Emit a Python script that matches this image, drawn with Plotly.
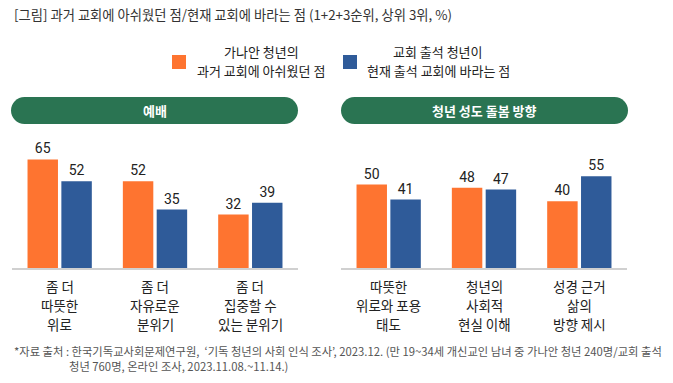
import plotly.graph_objects as go

W, H = 673, 383

# ---- data ----
title_text = "[그림] 과거 교회에 아쉬웠던 점/현재 교회에 바라는 점 (1+2+3순위, 상위 3위, %)"
series_names = ["가나안 청년의<br>과거 교회에 아쉬웠던 점", "교회 출석 청년이<br>현재 출석 교회에 바라는 점"]
series_colors = ["#FE7430", "#2F5B99"]

panel_titles = ["예배", "청년 성도 돌봄 방향"]

cats_left = ["좀 더<br>따뜻한<br>위로", "좀 더<br>자유로운<br>분위기", "좀 더<br>집중할 수<br>있는 분위기"]
past_left = [65, 52, 32]
now_left = [52, 35, 39]

cats_right = ["따뜻한<br>위로와 포용<br>태도", "청년의<br>사회적<br>현실 이해", "성경 근거<br>삶의<br>방향 제시"]
past_right = [50, 48, 40]
now_right = [41, 47, 55]

footnote_lines = [
    "*자료 출처 : 한국기독교사회문제연구원,  ‘기독 청년의 사회 인식 조사’, 2023.12. (만 19~34세 개신교인 남녀 중 가나안 청년 240명/교회 출석",
    "청년 760명, 온라인 조사, 2023.11.08.~11.14.)",
]

FONT = "Noto Sans CJK KR, Roboto, sans-serif"
NUMFONT = "Roboto, Noto Sans CJK KR, sans-serif"


def px(x):
    return x / W


def py(y):
    return 1 - y / H


fig = go.Figure()

panels = [
    (cats_left, past_left, now_left, "x", "y"),
    (cats_right, past_right, now_right, "x2", "y2"),
]
for cats, past, now, xa, ya in panels:
    for vals, name, col in zip([past, now], series_names, series_colors):
        fig.add_trace(go.Bar(
            x=cats, y=vals, name=name, marker=dict(color=col, line=dict(width=0)),
            text=vals, textposition="outside", cliponaxis=False,
            textfont=dict(family=NUMFONT, size=14, color="#222"),
            xaxis=xa, yaxis=ya, showlegend=False, hoverinfo="skip",
        ))

base = 268
top = base - 80 * 1.67
ydom = [py(base), py(top)]

axis_common = dict(showline=True, linecolor="#d0d0d0", linewidth=1.5, ticks="",
                   showgrid=False, zeroline=False, fixedrange=True,
                   showticklabels=False, automargin=False)
fig.update_layout(
    width=W, height=H, margin=dict(l=0, r=0, t=0, b=0, autoexpand=False),
    paper_bgcolor="white", plot_bgcolor="white",
    barmode="group", bargap=0.29, bargroupgap=0.1,
    xaxis=dict(domain=[px(12), px(298)], anchor="y", **axis_common),
    xaxis2=dict(domain=[px(341), px(627)], anchor="y2", **axis_common),
    yaxis=dict(domain=ydom, range=[0, 80], visible=False, automargin=False),
    yaxis2=dict(domain=ydom, range=[0, 80], visible=False, automargin=False),
)


def pill_path(x0, x1, y0, y1):
    r = (y1 - y0) / 2
    k = 0.5523 * r

    def p(x, y):
        return f"{px(x):.5f},{py(y):.5f}"
    return (
        f"M {p(x0 + r, y0)} L {p(x1 - r, y0)} "
        f"C {p(x1 - r + k, y0)} {p(x1, y0 + r - k)} {p(x1, y0 + r)} "
        f"C {p(x1, y0 + r + k)} {p(x1 - r + k, y1)} {p(x1 - r, y1)} "
        f"L {p(x0 + r, y1)} "
        f"C {p(x0 + r - k, y1)} {p(x0, y0 + r + k)} {p(x0, y0 + r)} "
        f"C {p(x0, y0 + r - k)} {p(x0 + r - k, y0)} {p(x0 + r, y0)} Z"
    )


annotations = []
shapes = []
for (x0, x1), t in zip([(11, 298), (341, 628)], panel_titles):
    shapes.append(dict(type="path", xref="paper", yref="paper", path=pill_path(x0, x1, 97, 124),
                       fillcolor="#2A7452", line=dict(width=0), layer="above"))
    annotations.append(dict(x=px((x0 + x1) / 2), y=py(110.5), xref="paper", yref="paper",
                            text=f"<b>{t}</b>", showarrow=False, xanchor="center", yanchor="middle",
                            font=dict(family=FONT, size=13, color="white")))

# category labels (one annotation per line, placed on the category axis)
for cats, xa in [(cats_left, "x"), (cats_right, "x2")]:
    for c in cats:
        for i, line in enumerate(c.split("<br>")):
            annotations.append(dict(x=c, xref=xa, y=py(286 + 19 * i), yref="paper",
                                    text=line, showarrow=False, xanchor="center", yanchor="middle",
                                    font=dict(family=FONT, size=13.5, color="#222")))

# title
annotations.append(dict(x=px(12), y=py(15), xref="paper", yref="paper", text=title_text,
                        showarrow=False, xanchor="left", yanchor="middle",
                        font=dict(family=FONT, size=13.3, color="#333")))

# legend (manual)
leg = [(172, 261), (343, 438)]
for (sx, tx), name, col in zip(leg, series_names, series_colors):
    shapes.append(dict(type="rect", xref="paper", yref="paper", x0=px(sx), x1=px(sx + 14),
                       y0=py(69), y1=py(55), fillcolor=col, line=dict(width=0)))
    for i, line in enumerate(name.split("<br>")):
        annotations.append(dict(x=px(tx), y=py(51.5 + 18.5 * i), xref="paper", yref="paper",
                                text=line, showarrow=False, xanchor="center", yanchor="middle",
                                font=dict(family=FONT, size=13, color="#222")))

# footnote
for (fx, fy), line in zip([(12, 351), (67, 366)], footnote_lines):
    annotations.append(dict(x=px(fx), y=py(fy), xref="paper", yref="paper", text=line,
                            showarrow=False, xanchor="left", yanchor="middle",
                            font=dict(family=FONT, size=11.3, color="#555")))

fig.update_layout(annotations=annotations, shapes=shapes)
fig.write_html("out.html", config={"displayModeBar": False},
               post_script="document.body.style.margin='0';document.body.style.overflow='hidden';")
